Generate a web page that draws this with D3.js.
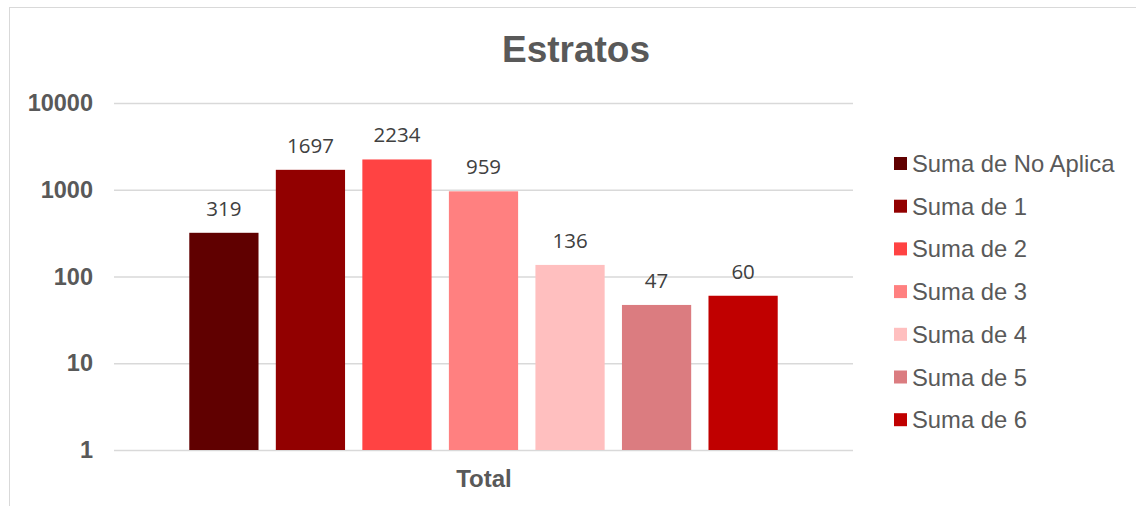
<!DOCTYPE html>
<html>
<head>
<meta charset="utf-8">
<script src="https://cdn.jsdelivr.net/npm/d3@7"></script>
<style>
  body { margin: 0; background: #fff; }
  svg { display: block; }
</style>
</head>
<body>
<script>
// chart data ------------------------------------------------------------
var categories = ["Total"];
var series = ["Suma de No Aplica", "Suma de 1", "Suma de 2", "Suma de 3", "Suma de 4", "Suma de 5", "Suma de 6"];
var values = [319, 1697, 2234, 959, 136, 47, 60];
var colors = ["#600000", "#920000", "#FF4343", "#FF8080", "#FFBFBF", "#DB7C80", "#C00000"];
var tickValues = [1, 10, 100, 1000, 10000];

var svgWidth = 1136;
var svgHeight = 506;

// plot area
var plot = { left: 114, right: 853, top: 103, bottom: 450 };

var svg = d3.select("body")
  .append("svg")
  .attr("width", svgWidth)
  .attr("height", svgHeight);

// outer chart border
svg.append("rect")
  .attr("x", 9.5)
  .attr("y", 7.5)
  .attr("width", svgWidth + 10)
  .attr("height", svgHeight + 10)
  .attr("fill", "none")
  .attr("stroke", "#d9d9d9")
  .attr("stroke-width", 1);

// title
svg.append("text")
  .attr("x", 576)
  .attr("y", 62)
  .attr("text-anchor", "middle")
  .attr("font-family", "Liberation Sans, Arial, sans-serif")
  .attr("font-weight", "bold")
  .attr("font-size", "37px")
  .attr("fill", "#595959")
  .text("Estratos");

// scales
var y = d3.scaleLog()
  .domain([1, 10000])
  .range([plot.bottom, plot.top]);

var x0 = d3.scaleBand()
  .domain(categories)
  .range([plot.left, plot.right])
  .padding(0);

var x1 = d3.scaleBand()
  .domain(series)
  .range([0, x0.bandwidth()])
  .paddingInner(0.2)
  .paddingOuter(0.87);

// gridlines + tick labels from the axis
var yAxis = d3.axisLeft(y)
  .tickValues(tickValues)
  .tickFormat(d3.format("d"))
  .tickSize(-(plot.right - plot.left))
  .tickPadding(21);

var yAxisG = svg.append("g")
  .attr("transform", `translate(${plot.left}, 0)`)
  .call(yAxis);

yAxisG.select(".domain").remove();
yAxisG.selectAll(".tick line")
  .attr("stroke", "#d9d9d9")
  .attr("stroke-width", 1.5);
yAxisG.selectAll(".tick text")
  .attr("font-family", "Liberation Sans, Arial, sans-serif")
  .attr("font-weight", "bold")
  .attr("font-size", "23.5px")
  .attr("fill", "#595959");

// bars
var catGroup = svg.selectAll(".cat")
  .data(categories)
  .enter()
  .append("g")
  .attr("class", "cat")
  .attr("transform", function(d) { return `translate(${x0(d)}, 0)`; });

var barData = series.map(function(s, i) {
  return { name: s, value: values[i], color: colors[i] };
});

catGroup.selectAll("rect")
  .data(barData)
  .enter()
  .append("rect")
  .attr("x", function(d) { return x1(d.name); })
  .attr("y", function(d) { return y(d.value); })
  .attr("width", x1.bandwidth())
  .attr("height", function(d) { return y(1) - y(d.value); })
  .attr("fill", function(d) { return d.color; });

// value labels above bars
catGroup.selectAll("text.val")
  .data(barData)
  .enter()
  .append("text")
  .attr("class", "val")
  .attr("x", function(d) { return x1(d.name) + x1.bandwidth() / 2; })
  .attr("y", function(d) { return y(d.value) - 17; })
  .attr("text-anchor", "middle")
  .attr("font-family", "Open Sans, sans-serif")
  .attr("font-size", "20.5px")
  .attr("fill", "#404040")
  .text(function(d) { return d.value; });

// category label
svg.selectAll("text.cat-label")
  .data(categories)
  .enter()
  .append("text")
  .attr("class", "cat-label")
  .attr("x", function(d) { return x0(d) + x0.bandwidth() / 2 + 0.5; })
  .attr("y", 487)
  .attr("text-anchor", "middle")
  .attr("font-family", "Liberation Sans, Arial, sans-serif")
  .attr("font-weight", "bold")
  .attr("font-size", "24px")
  .attr("fill", "#595959")
  .text(function(d) { return d; });

// legend
var legend = svg.append("g")
  .attr("transform", "translate(894, 157)");

var legendRow = legend.selectAll("g")
  .data(barData)
  .enter()
  .append("g")
  .attr("transform", function(d, i) { return `translate(0, ${i * 42.7})`; });

legendRow.append("rect")
  .attr("width", 13)
  .attr("height", 13)
  .attr("fill", function(d) { return d.color; });

legendRow.append("text")
  .attr("x", 18)
  .attr("y", 15)
  .attr("font-family", "Liberation Sans, Arial, sans-serif")
  .attr("font-size", "23.8px")
  .attr("fill", "#595959")
  .text(function(d) { return d.name; });
</script>
</body>
</html>
